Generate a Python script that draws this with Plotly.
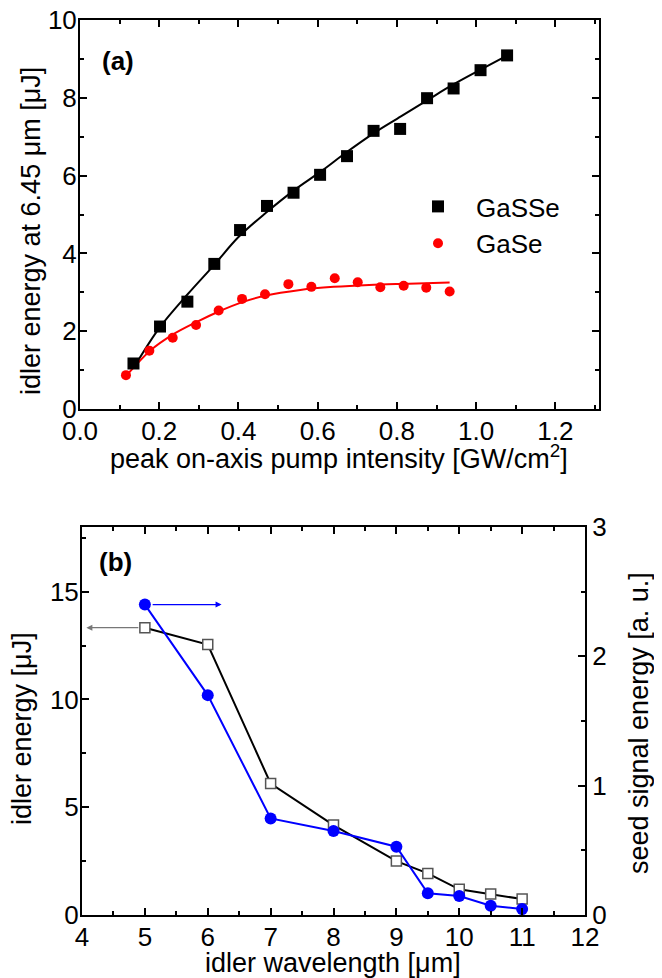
import plotly.graph_objects as go

# ---- panel (a) data ----
gasse_x = [0.135, 0.202, 0.271, 0.339, 0.404, 0.472, 0.539, 0.606, 0.674, 0.741, 0.808, 0.876, 0.943, 1.011, 1.078]
gasse_y = [1.17, 2.12, 2.76, 3.73, 4.60, 5.22, 5.56, 6.02, 6.50, 7.15, 7.20, 7.99, 8.24, 8.71, 9.09]
gase_x = [0.116, 0.175, 0.234, 0.293, 0.350, 0.409, 0.467, 0.526, 0.584, 0.643, 0.701, 0.758, 0.817, 0.874, 0.933]
gase_y = [0.87, 1.50, 1.83, 2.16, 2.53, 2.83, 2.95, 3.21, 3.14, 3.36, 3.26, 3.13, 3.17, 3.12, 3.02]
gasse_fit_x = [0.135, 0.20, 0.27, 0.34, 0.40, 0.47, 0.54, 0.61, 0.67, 0.74, 0.81, 0.88, 0.94, 1.01, 1.08]
gasse_fit_y = [1.05, 2.08, 2.93, 3.72, 4.42, 5.05, 5.62, 6.12, 6.58, 7.08, 7.52, 7.96, 8.33, 8.72, 9.10]
gase_fit_x = [0.118, 0.177, 0.232, 0.295, 0.349, 0.408, 0.467, 0.556, 0.64, 0.73, 0.83, 0.933]
gase_fit_y = [0.87, 1.50, 1.90, 2.24, 2.50, 2.74, 2.91, 3.06, 3.14, 3.19, 3.22, 3.25]

# ---- panel (b) data ----
wavelength = [5, 6, 7, 8, 9, 9.5, 10, 10.5, 11]
idler_energy = [13.33, 12.55, 6.10, 4.17, 2.50, 1.93, 1.19, 0.97, 0.74]
seed_energy = [2.40, 1.70, 0.747, 0.649, 0.528, 0.168, 0.147, 0.072, 0.046]

FONT = "Liberation Sans, Arial, sans-serif"
FS = 26
FT = 27
W, H = 662, 978
OFF = 8  # page body margin offset

def px_x(p):
    return (p - OFF) / W

def px_y(p):
    return 1 - (p - OFF) / H

fig = go.Figure()

# panel (a)
fig.add_trace(go.Scatter(x=gasse_fit_x, y=gasse_fit_y, mode="lines", line=dict(color="black", width=2, shape="spline"),
                         showlegend=False, xaxis="x", yaxis="y"))
fig.add_trace(go.Scatter(x=gase_fit_x, y=gase_fit_y, mode="lines", line=dict(color="#ff0000", width=2, shape="spline"),
                         showlegend=False, xaxis="x", yaxis="y"))
fig.add_trace(go.Scatter(x=gasse_x, y=gasse_y, mode="markers", name="GaSSe",
                         marker=dict(symbol="square", size=12, color="black"), xaxis="x", yaxis="y"))
fig.add_trace(go.Scatter(x=gase_x, y=gase_y, mode="markers", name="GaSe",
                         marker=dict(symbol="circle", size=10, color="#ff0000"), xaxis="x", yaxis="y"))

# panel (b)
fig.add_trace(go.Scatter(x=wavelength, y=idler_energy, mode="lines+markers", showlegend=False,
                         line=dict(color="black", width=2),
                         marker=dict(symbol="square", size=10, color="white", line=dict(color="#555555", width=1.5)),
                         xaxis="x2", yaxis="y2"))
fig.add_trace(go.Scatter(x=wavelength, y=seed_energy, mode="lines+markers", showlegend=False,
                         line=dict(color="#0000ff", width=2),
                         marker=dict(symbol="circle", size=12, color="#0000ff"),
                         xaxis="x2", yaxis="y3"))

axis_common = dict(showline=True, linecolor="black", linewidth=2, ticks="inside", ticklen=7, tickwidth=1.5,
                   tickcolor="black", showgrid=False, zeroline=False, automargin=False,
                   ticklabeloverflow="allow",
                   tickfont=dict(family=FONT, size=FS, color="black"))
minor_common = dict(ticks="inside", ticklen=4, tickwidth=1.5, tickcolor="black", showgrid=False)

fig.update_layout(
    width=W, height=H, margin=dict(l=0, r=0, t=0, b=0, pad=0, autoexpand=False),
    paper_bgcolor="white", plot_bgcolor="white",
    font=dict(family=FONT, size=FS, color="black"),
    xaxis=dict(domain=[px_x(80), px_x(599)], anchor="y", range=[0, 1.31], dtick=0.2, tick0=0, tickformat=".1f",
               mirror="ticks", ticklabelstandoff=-2, minor=dict(dtick=0.1, **minor_common), **axis_common),
    yaxis=dict(domain=[px_y(409), px_y(20)], anchor="x", range=[0, 10], dtick=2, mirror="ticks",
               ticklabelstandoff=-4, minor=dict(dtick=1, **minor_common), **axis_common),
    xaxis2=dict(domain=[px_x(82), px_x(585)], anchor="y2", range=[4, 12], dtick=1, mirror="ticks",
                ticklabelstandoff=-2, minor=dict(dtick=0.5, **minor_common), **axis_common),
    yaxis2=dict(domain=[px_y(915), px_y(527)], anchor="x2", range=[0, 18], dtick=5,
                ticklabelstandoff=-4, minor=dict(dtick=2.5, **minor_common), **axis_common),
    yaxis3=dict(overlaying="y2", side="right", anchor="x2", range=[0, 3], dtick=1,
                minor=dict(dtick=0.5, **minor_common), **axis_common),
    legend=dict(x=px_x(400), y=px_y(183), xanchor="left", yanchor="top", bgcolor="rgba(0,0,0,0)",
                font=dict(family=FONT, size=FS, color="black"), itemwidth=66, tracegroupgap=0),
    showlegend=True,
)

annotations = [
    # axis titles
    dict(text="peak on-axis pump intensity [GW/cm<sup>2</sup>]", x=px_x(339), y=px_y(457), xref="paper", yref="paper",
         showarrow=False, xanchor="center", yanchor="middle", font=dict(size=FT)),
    dict(text="idler energy at 6.45 μm [μJ]", x=px_x(31), y=px_y(231), xref="paper", yref="paper",
         showarrow=False, textangle=-90, xanchor="center", yanchor="middle", font=dict(size=FT)),
    dict(text="idler wavelength [μm]", x=px_x(333), y=px_y(963), xref="paper", yref="paper",
         showarrow=False, xanchor="center", yanchor="middle", font=dict(size=FT)),
    dict(text="idler energy [μJ]", x=px_x(22), y=px_y(729), xref="paper", yref="paper",
         showarrow=False, textangle=-90, xanchor="center", yanchor="middle", font=dict(size=FT)),
    dict(text="seed signal energy [a. u.]", x=px_x(639), y=px_y(723), xref="paper", yref="paper",
         showarrow=False, textangle=-90, xanchor="center", yanchor="middle", font=dict(size=FT)),
    # panel labels
    dict(text="<b>(a)</b>", x=px_x(100), y=px_y(61), xref="paper", yref="paper",
         showarrow=False, xanchor="left", yanchor="middle", font=dict(size=FS)),
    dict(text="<b>(b)</b>", x=px_x(97), y=px_y(562), xref="paper", yref="paper",
         showarrow=False, xanchor="left", yanchor="middle", font=dict(size=FS)),
    # axis-indicator arrows
    dict(x=4.07, y=idler_energy[0], ax=4.92, ay=idler_energy[0], xref="x2", yref="y2", axref="x2", ayref="y2",
         text="", showarrow=True, arrowhead=2, arrowsize=1, arrowwidth=1.2, arrowcolor="#777777"),
    dict(x=6.22, y=seed_energy[0], ax=5.1, ay=seed_energy[0], xref="x2", yref="y3", axref="x2", ayref="y3",
         text="", showarrow=True, arrowhead=2, arrowsize=1, arrowwidth=1.2, arrowcolor="#0000ff"),
]
fig.update_layout(annotations=annotations)

fig.write_html("out.html")
